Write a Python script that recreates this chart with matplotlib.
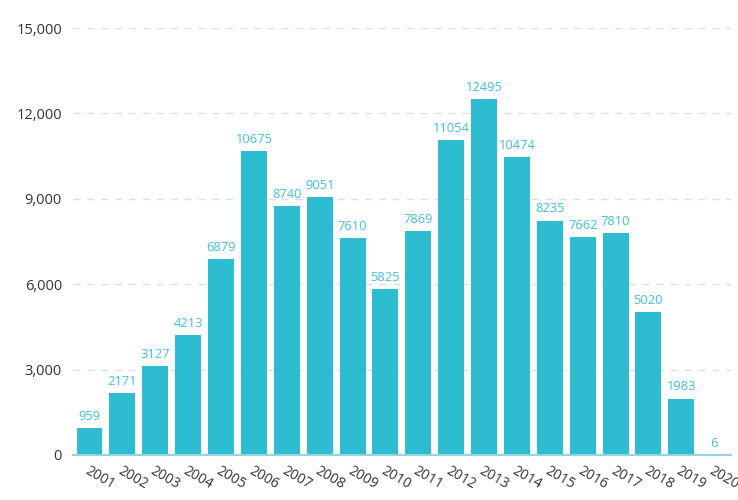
"""
Yearly counts, 2001-2020, as a bar chart with value labels.
"""
from matplotlib import pyplot as plt
from matplotlib.ticker import FuncFormatter

years = [str(y) for y in range(2001, 2021)]
counts = [959, 2171, 3127, 4213, 6879, 10675, 8740, 9051, 7610, 5825,
          7869, 11054, 12495, 10474, 8235, 7662, 7810, 5020, 1983, 6]
y_ticks = [0, 3000, 6000, 9000, 12000, 15000]

bar_color = '#2dbcd0'
label_color = '#3fc2d6'
text_color = '#333333'

plt.rcParams['font.family'] = ['Open Sans', 'DejaVu Sans']

fig = plt.figure(figsize=(7.38, 5), dpi=100)
ax = fig.add_axes([0.099, 0.09, 0.891, 0.854])

x = range(len(years))
ax.bar(x, counts, width=0.79, color=bar_color, zorder=3)
for xi, c in zip(x, counts):
    ax.text(xi, c + 180, str(c), ha='center', va='bottom',
            fontsize=9.3, color=label_color, zorder=4)

ax.set_xlim(-0.5, len(years) - 0.5)
ax.set_ylim(0, 15000)
ax.set_yticks(y_ticks)
ax.yaxis.set_major_formatter(FuncFormatter(lambda v, p: f'{int(v):,}'))
for v in y_ticks[1:]:
    ax.axhline(v, color='#dcdde6', linestyle=(0, (5, 5)), linewidth=1, zorder=1)

ax.set_xticks(list(x))
ax.set_xticklabels(years, rotation=-30, ha='left', rotation_mode='anchor',
                   fontsize=10, color=text_color)
ax.tick_params(axis='y', length=0, pad=8, labelsize=10.5, labelcolor=text_color)
ax.tick_params(axis='x', length=0, pad=6)

for side in ['top', 'right', 'left']:
    ax.spines[side].set_visible(False)
ax.spines['bottom'].set_color('#8fd6e2')
ax.spines['bottom'].set_linewidth(1.5)
ax.spines['bottom'].set_zorder(5)

fig.savefig('out.png', dpi=100)
